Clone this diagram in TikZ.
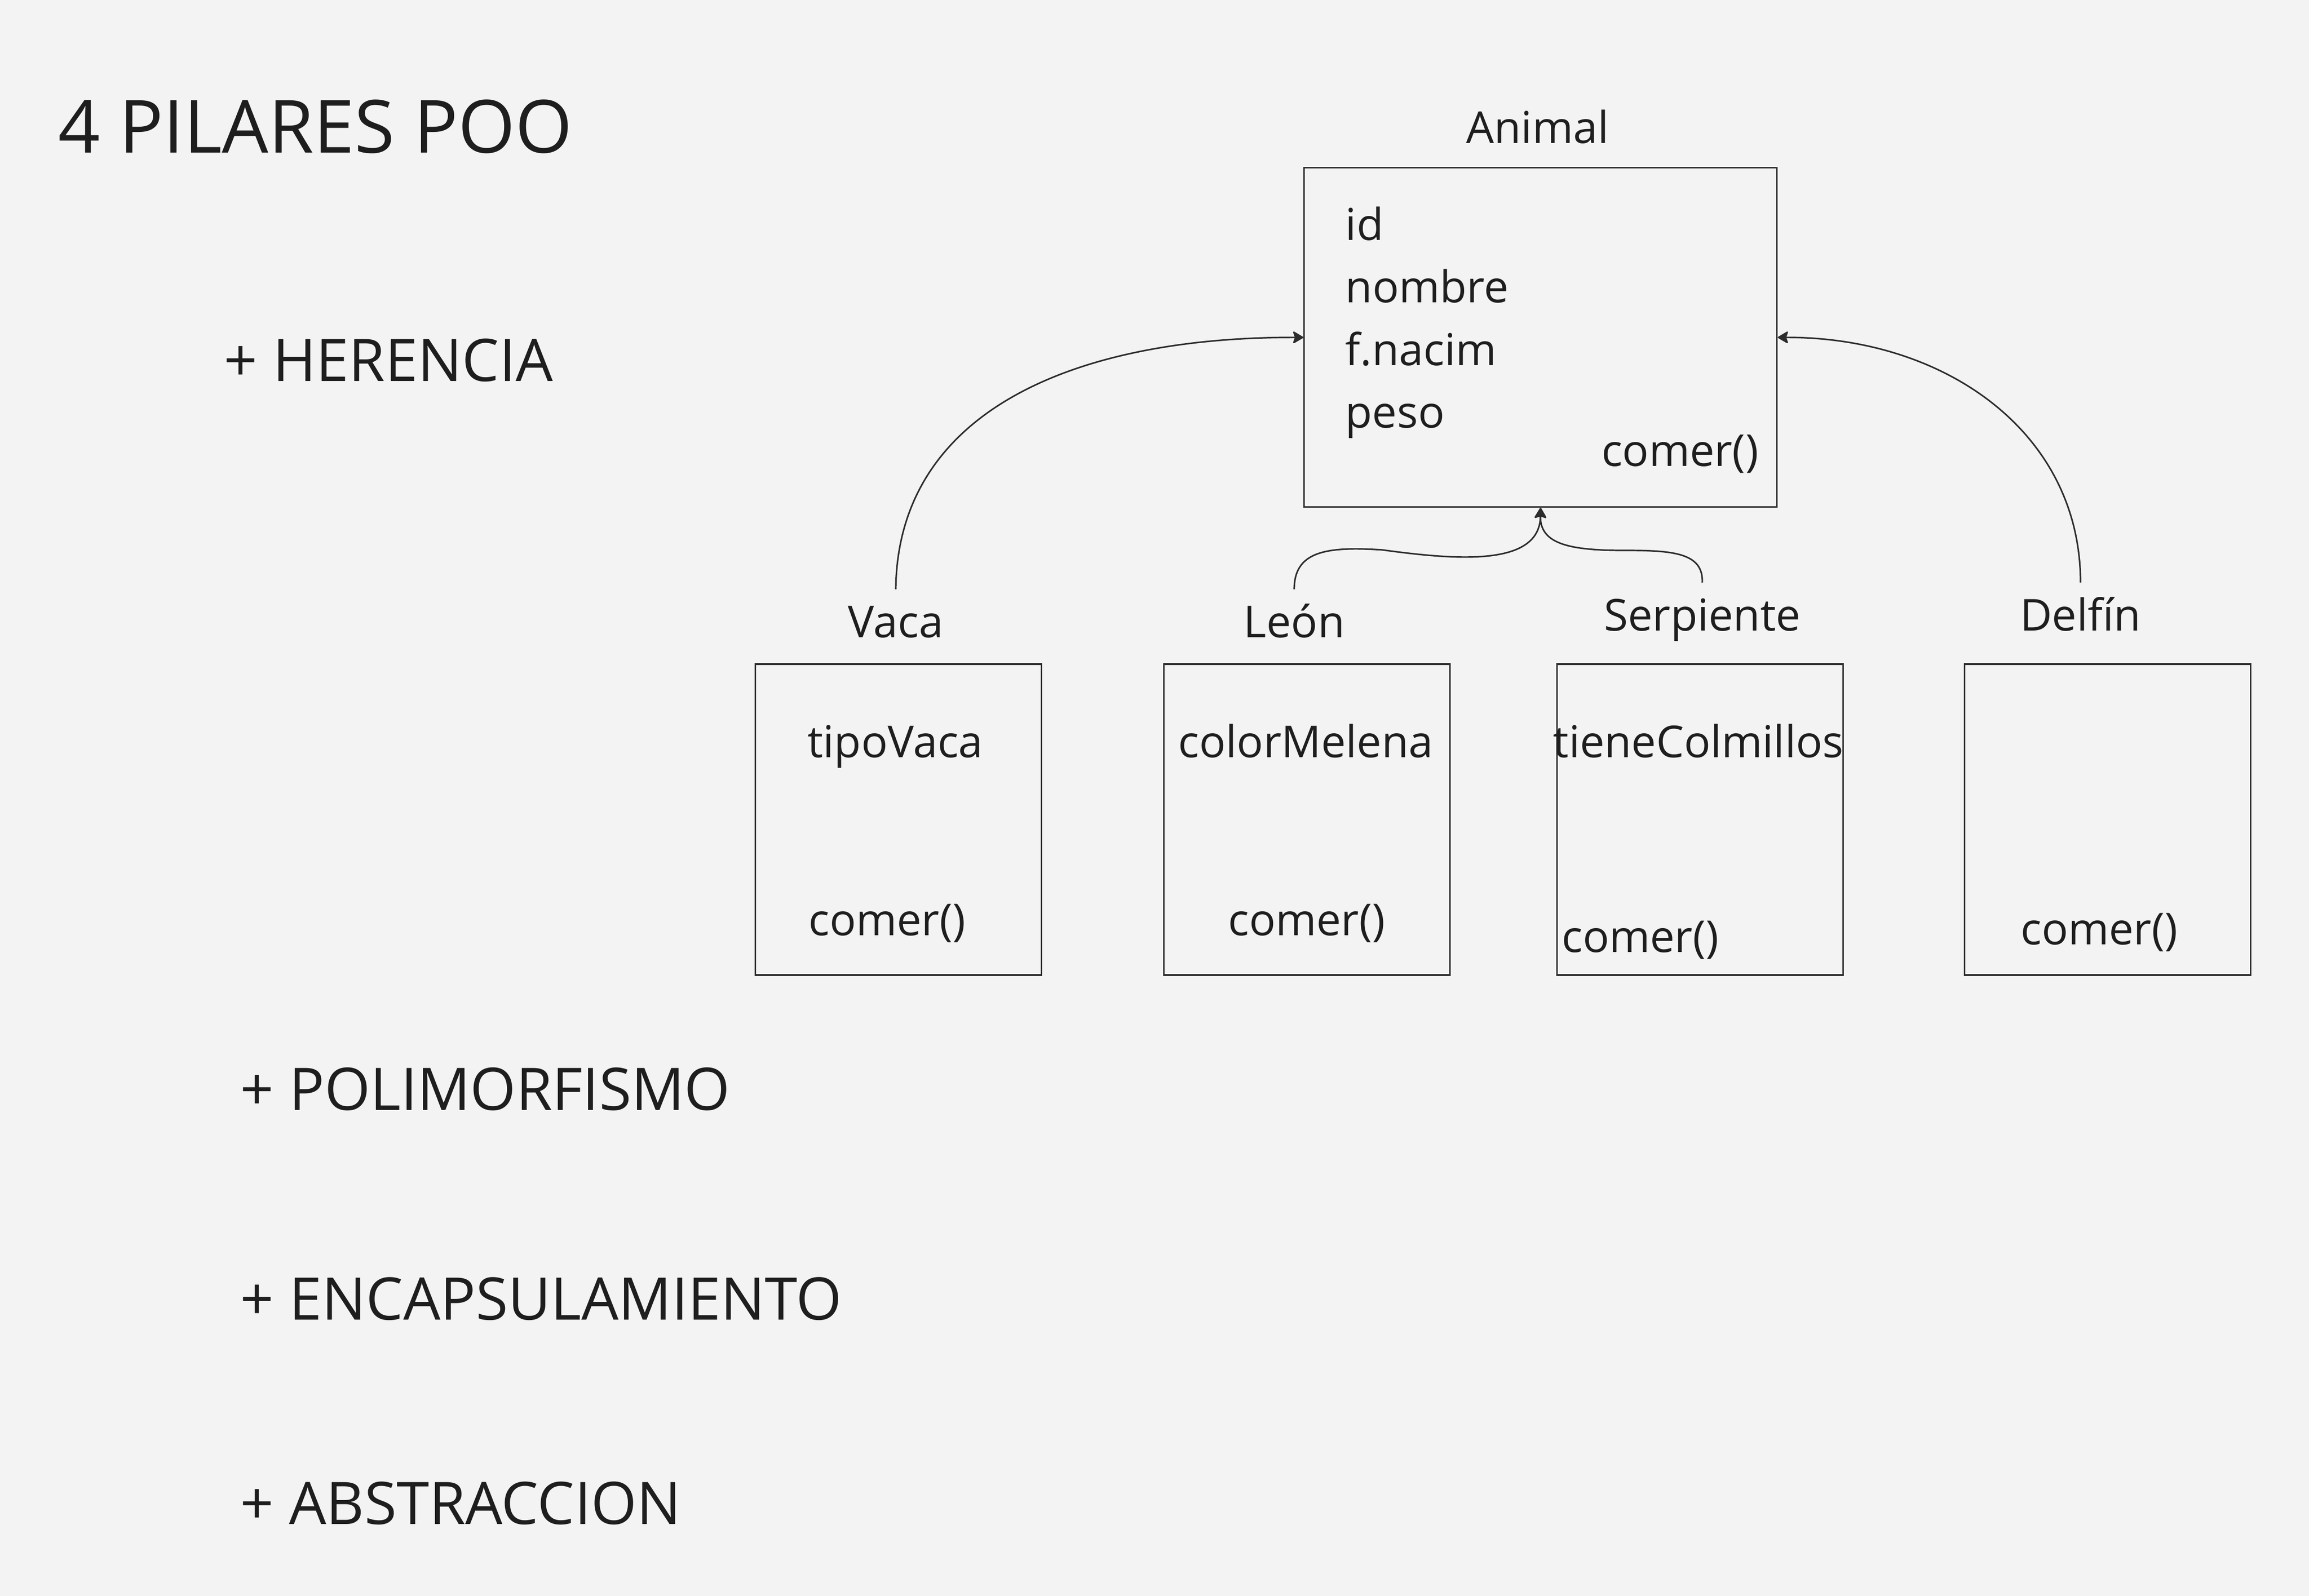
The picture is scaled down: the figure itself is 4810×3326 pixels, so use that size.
\documentclass[tikz,border=0pt]{standalone}
\usepackage{fontspec}
\setmainfont{Open Sans}
\usetikzlibrary{arrows.meta}
\definecolor{bg}{HTML}{F3F3F3}
\definecolor{ink}{HTML}{1E1E1E}
\definecolor{edge}{HTML}{2C2C2C}
\tikzset{
  txt/.style={inner sep=0pt, anchor=base west, text=ink, font=\fontsize{22.9}{27}\selectfont},
  txtc/.style={txt, anchor=base},
  lbl/.style={txtc, text height=17pt, text depth=0pt, inner xsep=0pt, inner ysep=8pt},
  big/.style={inner sep=0pt, anchor=base west, text=ink, font=\fontsize{30.6}{36}\selectfont},
  ttl/.style={inner sep=0pt, anchor=base west, text=ink, font=\fontsize{38.2}{44}\selectfont},
  classbox/.style={draw=edge, line width=0.85pt, anchor=north west, inner sep=0pt},
  childbox/.style={classbox, minimum width=149pt, minimum height=161.9pt},
  inherit/.style={draw=edge, line width=0.8pt, -{Stealth[length=6pt,width=7pt,inset=1.2pt,round]}}
}
\begin{document}
\begin{tikzpicture}[x=0.25pt, y=-0.25pt]
\useasboundingbox (0,0) rectangle (4810,3326);
\fill[bg] (0,0) rectangle (4810,3326);

% title and list
\node[ttl] (title) at (121,319) {4 PILARES POO};
\node[big] (her) at (466,795) {+ HERENCIA};
\node[big] (pol) at (500,2313) {+ POLIMORFISMO};
\node[big] (enc) at (500,2750) {+ ENCAPSULAMIENTO};
\node[big] (abs) at (500,3176) {+ ABSTRACCION};

% Animal class
\node[classbox, minimum width=246.25pt, minimum height=176.75pt] (animal) at (2715,348) {};
\node[txtc] (animalL) at (3203,299) {Animal};
\node[txt] (aid) at (2802,501) {id};
\node[txt] (anom) at (2802,631) {nombre};
\node[txt] (afn) at (2802,762) {f.nacim};
\node[txt] (apeso) at (2802,892) {peso};
\node[txt, anchor=base east] (acomer) at (3664,972) {comer()};

% child boxes
\node[childbox] (vaca) at (1572,1382.5) {};
\node[childbox] (leon) at (2423,1382.5) {};
\node[childbox] (serp) at (3242,1382.5) {};
\node[childbox] (delf) at (4091,1382.5) {};

% child labels
\node[lbl] (vacaL) at (1866,1329) {Vaca};
\node[lbl] (leonL) at (2696,1329) {León};
\node[lbl] (serpL) at (3546,1315) {Serpiente};
\node[lbl] (delfL) at (4334,1315) {Delfín};

% child contents
\node[txtc] (vt) at (1865,1578) {tipoVaca};
\node[txtc] (vc) at (1848,1949) {comer()};
\node[txtc] (lt) at (2720,1578) {colorMelena};
\node[txtc] (lc) at (2722,1949) {comer()};
\node[txtc] (st) at (3538,1578) {tieneColmillos};
\node[txtc] (sc) at (3417,1984) {comer()};
\node[txtc] (dc) at (4373,1968) {comer()};

% inheritance connectors
\draw[inherit] (vacaL.north) .. controls (1870,850) and (2250,702) .. (animal.west);
\draw[inherit] (delfL.north) .. controls (4334,900) and (4050,702) .. (animal.east);
\draw[inherit] (leonL.north) .. controls (2696,1150) and (2760,1138) .. (2880,1146)
   .. controls (3040,1168) and (3208,1180) .. (animal.south);
\draw[inherit] (serpL.north) .. controls (3549,1150) and (3480,1147) .. (3380,1147)
   .. controls (3260,1147) and (3208,1130) .. (animal.south);
\end{tikzpicture}
\end{document}
